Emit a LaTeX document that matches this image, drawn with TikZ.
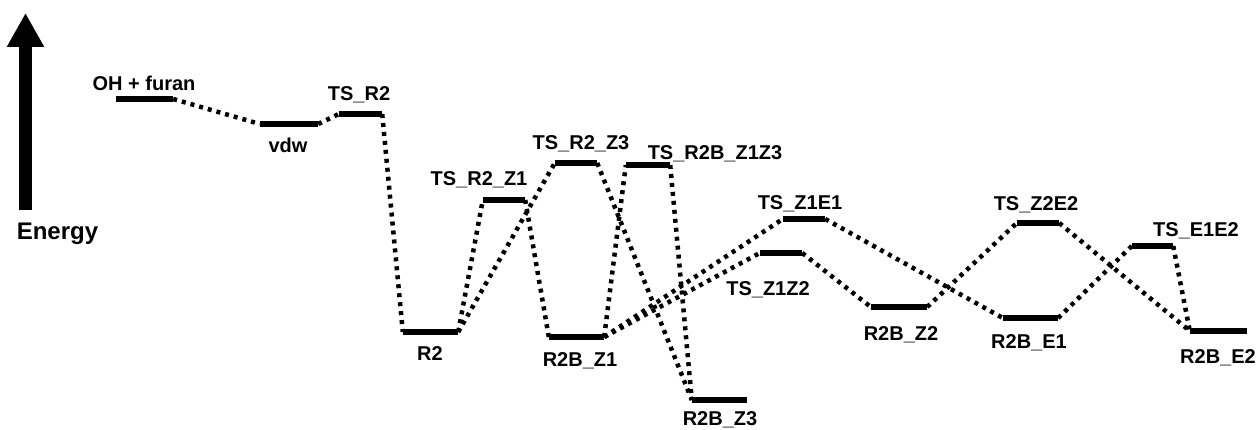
\documentclass[tikz,border=0pt]{standalone}
\usepackage{fontspec}
\setmainfont{Liberation Sans}
\usetikzlibrary{arrows.meta}
\begin{document}
\begin{tikzpicture}[x=1pt,y=-1pt,
  lvl/.style={fill=black,draw=none,inner sep=0pt,minimum height=6pt,minimum width=#1},
  lbl/.style={anchor=base,inner sep=0pt,font=\fontsize{20}{24}\selectfont\bfseries},
  conn/.style={line width=4.5pt,dash pattern=on 4pt off 5pt}]
\useasboundingbox (0,0) rectangle (1258,430);
% energy arrow
\coordinate (eb) at (25.5,210);
\coordinate (et) at (25.5,13);
\draw[line width=13pt,-{Triangle[width=35pt,length=34pt]}] (eb) -- (et);
\node[lbl,font=\fontsize{24}{28}\selectfont\bfseries] (energy) at (57.5,240) {Energy};
% levels
\node[lvl=57pt] (ohf) at (144.5,99) {};
\node[lvl=58pt] (vdw) at (289,124) {};
\node[lvl=43pt] (tsr2) at (360.5,114) {};
\node[lvl=55pt] (r2) at (430.5,332) {};
\node[lvl=42pt] (tsr2z1) at (504,200) {};
\node[lvl=42pt] (tsr2z3) at (576,163) {};
\node[lvl=44pt] (tsr2bz1z3) at (648,165) {};
\node[lvl=55pt] (r2bz1) at (576.5,337) {};
\node[lvl=55pt] (r2bz3) at (719.5,400) {};
\node[lvl=42pt] (tsz1e1) at (804,219) {};
\node[lvl=42pt] (tsz1z2) at (781,253) {};
\node[lvl=56pt] (r2bz2) at (899,307) {};
\node[lvl=42pt] (tsz2e2) at (1038,223) {};
\node[lvl=55pt] (r2be1) at (1030.5,318) {};
\node[lvl=41pt] (tse1e2) at (1152.5,246) {};
\node[lvl=57pt] (r2be2) at (1218.5,331) {};
% labels
\node[lbl] (l-ohf) at (144,91) {OH + furan};
\node[lbl] (l-vdw) at (288,153) {vdw};
\node[lbl] (l-tsr2) at (359,101) {TS\_R2};
\node[lbl] (l-r2) at (430,360) {R2};
\node[lbl] (l-tsr2z1) at (479,186) {TS\_R2\_Z1};
\node[lbl] (l-tsr2z3) at (581,150) {TS\_R2\_Z3};
\node[lbl] (l-tsr2bz1z3) at (715,160) {TS\_R2B\_Z1Z3};
\node[lbl] (l-r2bz1) at (580,366) {R2B\_Z1};
\node[lbl] (l-r2bz3) at (720,425) {R2B\_Z3};
\node[lbl] (l-tsz1e1) at (800,210) {TS\_Z1E1};
\node[lbl] (l-tsz1z2) at (768,296) {TS\_Z1Z2};
\node[lbl] (l-r2bz2) at (901,340) {R2B\_Z2};
\node[lbl] (l-tsz2e2) at (1036,211) {TS\_Z2E2};
\node[lbl] (l-r2be1) at (1029,348) {R2B\_E1};
\node[lbl] (l-tse1e2) at (1196,237) {TS\_E1E2};
\node[lbl] (l-r2be2) at (1218,363) {R2B\_E2};
% connectors
\draw[conn] (ohf.east) -- (vdw.west);
\draw[conn] (vdw.east) -- (tsr2.west);
\draw[conn] (tsr2.east) -- (r2.west);
\draw[conn] (r2.east) -- (tsr2z1.west);
\draw[conn] (r2.east) -- (tsr2z3.west);
\draw[conn] (tsr2z1.east) -- (r2bz1.west);
\draw[conn] (tsr2z3.east) -- (r2bz3.west);
\draw[conn] (r2bz1.east) -- (tsr2bz1z3.west);
\draw[conn] (tsr2bz1z3.east) -- (r2bz3.west);
\draw[conn] (r2bz1.east) -- (tsz1e1.west);
\draw[conn] (r2bz1.east) -- (tsz1z2.west);
\draw[conn] (tsz1e1.east) -- (r2be1.west);
\draw[conn] (tsz1z2.east) -- (r2bz2.west);
\draw[conn] (r2bz2.east) -- (tsz2e2.west);
\draw[conn] (tsz2e2.east) -- (r2be2.west);
\draw[conn] (r2be1.east) -- (tse1e2.west);
\draw[conn] (tse1e2.east) -- (r2be2.west);
\end{tikzpicture}
\end{document}
